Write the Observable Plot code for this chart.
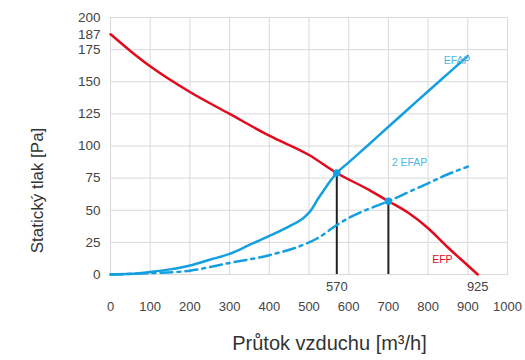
<!DOCTYPE html>
<html>
<head>
<meta charset="utf-8">
<script src="https://cdn.jsdelivr.net/npm/d3@7"></script>
<script src="https://cdn.jsdelivr.net/npm/@observablehq/plot@0.6"></script>
<style>
  html, body { margin: 0; padding: 0; background: #fff; }
</style>
</head>
<body>
<div id="chart"></div>
<script>
// EFP (red) – fan curve
const efpFlow     = [0, 50, 100, 200, 300, 400, 500, 570, 650, 700, 750, 800, 850, 900, 925];
const efpPressure = [187, 174, 162, 142, 125, 108, 93, 79, 66, 57, 48, 36, 21, 7, 0];
// EFAP (blue solid)
const efapFlow     = [0, 50, 100, 150, 200, 250, 300, 350, 400, 450, 490, 505, 520, 537, 554, 570, 600, 650, 700, 750, 800, 850, 900];
const efapPressure = [0, 0.5, 2, 4, 7, 11.5, 16, 23, 30, 37.5, 45, 50, 57.6, 65.4, 73, 79, 87.3, 101, 115, 128.8, 142.6, 156.3, 170];
// 2 EFAP (blue dash-dot)
const efap2Flow     = [0, 100, 200, 300, 400, 500, 520, 570, 600, 650, 700, 750, 800, 850, 900];
const efap2Pressure = [0, 1, 3, 9, 15, 25, 28, 38.5, 44, 51, 57, 64, 71, 78, 84];
// Operating points
const opFlow     = [570, 700];
const opPressure = [79, 57];
// Axis ticks
const xTicks = [0, 100, 200, 300, 400, 500, 600, 700, 800, 900, 1000];
const yTicks = [0, 25, 50, 75, 100, 125, 150, 175, 187, 200];
const yGrid  = [0, 25, 50, 75, 100, 125, 150, 175, 200];
const markTicks = [570, 925];
// Labels
const seriesLabels = ["EFAP", "2 EFAP", "EFP"];
const labelFlow = [873, 753, 836];
const labelPressure = [166.5, 87, 11.7];

const zip = (xs, ys) => xs.map((x, i) => ({flow: x, pressure: ys[i]}));
const efp = zip(efpFlow, efpPressure);
const efap = zip(efapFlow, efapPressure);
const efap2 = zip(efap2Flow, efap2Pressure);
const ops = opFlow.map((f, i) => ({flow: f, pressure: opPressure[i], base: 0}));
const labels = seriesLabels.map((t, i) => ({text: t, flow: labelFlow[i], pressure: labelPressure[i]}));

const RED = "#e30a1e";
const BLUE = "#139fe0";
const LBLUE = "#4cb6e8";
const fmt = d => String(d);

const chart = Plot.plot({
  width: 525,
  height: 360,
  marginLeft: 110,
  marginRight: 18,
  marginTop: 17,
  marginBottom: 86,
  x: {domain: [0, 1000]},
  y: {domain: [0, 200]},
  style: {fontFamily: "'Liberation Sans', Arial, sans-serif", background: "#fff", color: "#444"},
  marks: [
    Plot.gridX(xTicks, {stroke: "#d9d9d9", strokeOpacity: 1, strokeWidth: 1}),
    Plot.gridY(yGrid, {stroke: "#d9d9d9", strokeOpacity: 1, strokeWidth: 1}),
    Plot.frame({stroke: "#d9d9d9"}),
    Plot.axisY({ticks: yTicks, tickSize: 0, tickPadding: 10, fontSize: 13.5, fill: "#444", label: null, tickFormat: fmt}),
    Plot.axisX({ticks: xTicks, tickSize: 0, tickPadding: 27, fontSize: 13, fill: "#444", label: null, tickFormat: fmt}),
    Plot.axisX({ticks: markTicks, tickSize: 0, tickPadding: 7, fontSize: 13, fill: "#444", label: null, tickFormat: fmt}),
    Plot.ruleX(ops, {x: "flow", y1: "base", y2: "pressure", stroke: "#222", strokeWidth: 2}),
    Plot.line(efap2, {x: "flow", y: "pressure", stroke: BLUE, strokeWidth: 2.5, strokeDasharray: "12,5,3,5", curve: "monotone-x"}),
    Plot.line(efap, {x: "flow", y: "pressure", stroke: BLUE, strokeWidth: 2.5, curve: "monotone-x"}),
    Plot.line(efp, {x: "flow", y: "pressure", stroke: RED, strokeWidth: 2.5, curve: "monotone-x"}),
    Plot.dot(ops, {x: "flow", y: "pressure", r: 3.8, fill: BLUE, stroke: "none"}),
    Plot.text(labels, {x: "flow", y: "pressure", text: "text", fontSize: 10.5, textAnchor: "middle",
      fill: d => d.text === "EFP" ? RED : LBLUE}),
    Plot.text(["Statický tlak [Pa]"], {frameAnchor: "left", textAnchor: "middle", lineAnchor: "middle",
      dx: -73, dy: 44.5, rotate: -90, fontSize: 17, fill: "#333"}),
    Plot.text(["Průtok vzduchu [m³/h]"], {frameAnchor: "bottom", textAnchor: "middle", lineAnchor: "middle",
      dx: 20.5, dy: 69, fontSize: 20, fill: "#333"})
  ]
});
document.getElementById("chart").appendChild(chart);
</script>
</body>
</html>
